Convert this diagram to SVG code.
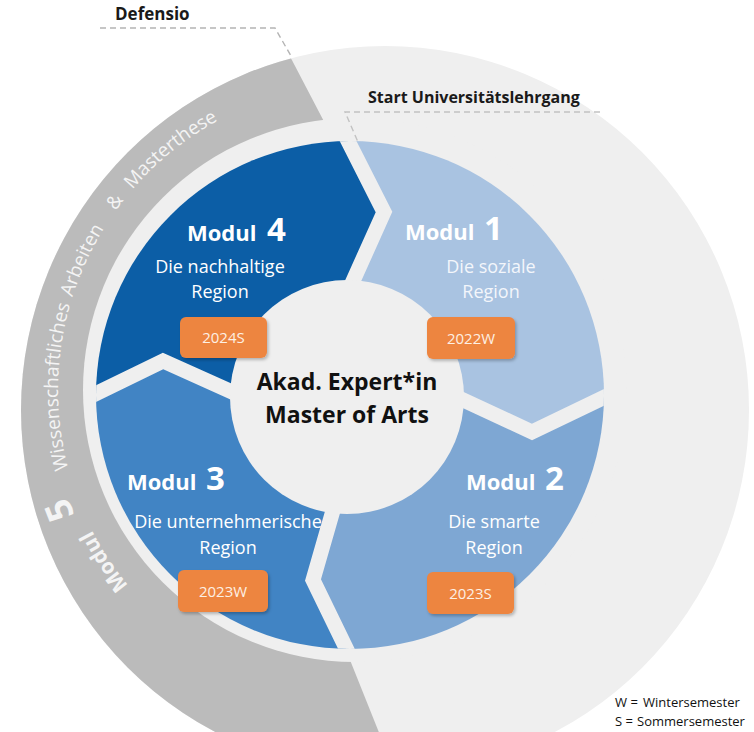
<svg xmlns="http://www.w3.org/2000/svg" width="754" height="732" viewBox="0 0 754 732">
<defs>
<style>
text{font-family:"Open Sans","Noto Sans","DejaVu Sans",sans-serif}
.lbl{font-weight:700;fill:#1a1a1a}
.mt{font-weight:700;font-size:22px;fill:#ffffff}
.mn{font-weight:700;font-size:33px;fill:#ffffff}
.md{font-size:18px;fill:#ffffff;text-anchor:middle}
.box{fill:#ed8541;filter:url(#sh)}
.bt{font-size:15px;fill:#fdf0e4;text-anchor:middle}
.arc{font-size:19px;fill:#f4f4f4}
.sep{fill:none;stroke:#efefef;stroke-width:15;stroke-linejoin:miter;stroke-miterlimit:10}
.dash{fill:none;stroke:#b4b4b4;stroke-width:1.4;stroke-dasharray:6 4}
.lg{font-size:13px;fill:#111111}
</style>
<clipPath id="outerClip"><circle cx="385" cy="410" r="364"/></clipPath>
<clipPath id="ringClip"><circle cx="350" cy="395" r="254"/></clipPath>
<filter id="sh" x="-20%" y="-20%" width="150%" height="160%"><feDropShadow dx="1.5" dy="2" stdDeviation="1.5" flood-color="#000000" flood-opacity="0.25"/></filter>
<path id="arcP" d="M167.7,625.2 A307,307 0 0 1 311.7,87.7"/>
<path id="arcP2" d="M161.9,632.1 A316,316 0 0 1 310.1,78.8"/>
</defs>
<rect width="754" height="732" fill="#ffffff"/>
<g id="background">
<circle cx="385" cy="410" r="364" fill="#efefef"/>
</g>
<g id="modul5">
<polygon clip-path="url(#outerClip)" points="271,20 0,20 0,760 390,760 326,600 365,200" fill="#bbbbbb"/>
<text class="arc" style="font-weight:700;font-size:21px"><textPath href="#arcP" startOffset="56">Modul</textPath></text>
<text class="arc" style="font-weight:700;font-size:36px"><textPath href="#arcP2" startOffset="147">5</textPath></text>
<text class="arc"><textPath href="#arcP" startOffset="188">Wissenschaftliches</textPath></text>
<text class="arc"><textPath href="#arcP" startOffset="362">Arbeiten</textPath></text>
<text class="arc"><textPath href="#arcP" startOffset="459">&amp;</textPath></text>
<text class="arc"><textPath href="#arcP" startOffset="486">Masterthese</textPath></text>
</g>
<circle cx="355" cy="390" r="272" fill="#efefef"/>
<g clip-path="url(#ringClip)">
<polygon id="shape-m1" points="347,398 340,310 384,212 307,60 720,60 720,380 640,380 532,432 418,379" fill="#a9c3e1"/>
<polygon id="shape-m2" points="347,398 418,379 532,432 640,380 720,380 720,720 381,720 313,580 336,500" fill="#7ea7d3"/>
<polygon id="shape-m3" points="347,398 336,500 313,580 381,720 40,720 40,421 163,361 290,418" fill="#4184c4"/>
<polygon id="shape-m4" points="347,398 290,418 163,361 40,421 40,60 307,60 384,212 340,310" fill="#0c5ea6"/>
<g id="separators">
<polyline class="sep" points="307,60 384,212 340,310"/>
<polyline class="sep" points="418,379 532,432 640,380"/>
<polyline class="sep" points="336,500 313,580 381,720"/>
<polyline class="sep" points="40,421 163,361 290,418"/>
</g>
</g>
<g id="center">
<circle cx="347" cy="397" r="117" fill="#efefef"/>
<text x="347" y="390" class="lbl" style="font-size:23px;fill:#111111" text-anchor="middle">Akad. Expert*in</text>
<text x="347" y="423" class="lbl" style="font-size:23px;fill:#111111" text-anchor="middle">Master of Arts</text>
</g>
<g id="modul4">
<text x="187" y="241" class="mt">Modul</text><text x="267" y="241" class="mn">4</text>
<text x="220" y="273" class="md">Die nachhaltige</text>
<text x="220" y="298" class="md">Region</text>
<rect class="box" x="180" y="317" width="87" height="41" rx="6"/>
<text x="223.5" y="343" class="bt">2024S</text>
</g>
<g id="modul1">
<text x="405" y="240" class="mt">Modul</text><text x="484" y="240" class="mn">1</text>
<text x="491" y="273" class="md" style="fill:#f3f6fb">Die soziale</text>
<text x="491" y="298" class="md" style="fill:#f3f6fb">Region</text>
<rect class="box" x="427" y="317" width="88" height="42" rx="6"/>
<text x="471" y="344" class="bt">2022W</text>
</g>
<g id="modul3">
<text x="127" y="490" class="mt">Modul</text><text x="206" y="490" class="mn">3</text>
<text x="228" y="528" class="md">Die unternehmerische</text>
<text x="228" y="554" class="md">Region</text>
<rect class="box" x="178" y="570" width="90" height="42" rx="6"/>
<text x="223" y="597" class="bt">2023W</text>
</g>
<g id="modul2">
<text x="466" y="490" class="mt">Modul</text><text x="545" y="490" class="mn">2</text>
<text x="494" y="528" class="md">Die smarte</text>
<text x="494" y="554" class="md">Region</text>
<rect class="box" x="427" y="572" width="87" height="42" rx="6"/>
<text x="470.5" y="599" class="bt">2023S</text>
</g>
<g id="labels">
<path class="dash" d="M100,28 H275 L291,56"/>
<text x="115" y="20" class="lbl" style="font-size:17px">Defensio</text>
<path class="dash" d="M600,112 H345 L358,142" style="stroke:#c2c2c2"/>
<text x="368" y="103" class="lbl" style="font-size:16px">Start Universitätslehrgang</text>
</g>
<g id="legend">
<text y="707" class="lg"><tspan x="615">W =</tspan><tspan x="643">Wintersemester</tspan></text>
<text y="726" class="lg"><tspan x="615">S =</tspan><tspan x="637">Sommersemester</tspan></text>
</g>
</svg>
